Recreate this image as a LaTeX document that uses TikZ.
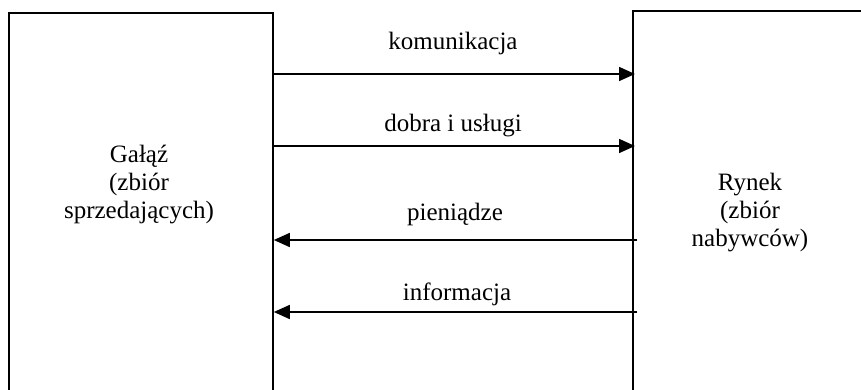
\documentclass[tikz,border=0pt]{standalone}
\usepackage{fontspec}
\setmainfont{Liberation Serif}
\usetikzlibrary{arrows.meta}
\begin{document}
\begin{tikzpicture}[x=1pt,y=-1pt,
  box/.style={draw,line width=1.8pt,rectangle,inner sep=0pt},
  arr/.style={line width=1.6pt,-{Triangle[length=16pt,width=14pt]}},
  lbl/.style={font=\fontsize{25}{28}\selectfont,anchor=base,inner sep=0pt},
  boxtext/.style={font=\fontsize{25}{28}\selectfont,align=center,inner sep=0pt}]
\useasboundingbox (0,0) rectangle (861,390);
\clip (0,0) rectangle (861,390);
\node[box,minimum width=264pt,minimum height=408pt,anchor=north west] (L) at (8,12) {};
\node[box,minimum width=250pt,minimum height=410pt,anchor=north west] (R) at (632,10) {};
\node[boxtext] (Lt) at (139,185) {Gałąź\\(zbiór\\sprzedających)};
\node[boxtext] (Rt) at (750,213) {Rynek\\(zbiór\\nabywców)};
\coordinate (y1) at (0,74);
\coordinate (y2) at (0,146);
\coordinate (y3) at (0,240);
\coordinate (y4) at (0,312);
\coordinate (xr) at (637,0);
\draw[arr] (L.east |- y1) -- ([xshift=3pt]R.west |- y1);
\draw[arr] (L.east |- y2) -- ([xshift=3pt]R.west |- y2);
\draw[arr] (xr |- y3) -- (L.east |- y3);
\draw[arr] (xr |- y4) -- (L.east |- y4);
\node[lbl] (k) at (453,50) {komunikacja};
\node[lbl] (d) at (453,132) {dobra i usługi};
\node[lbl] (p) at (455,220) {pieniądze};
\node[lbl] (i) at (457,300) {informacja};
\end{tikzpicture}
\end{document}
